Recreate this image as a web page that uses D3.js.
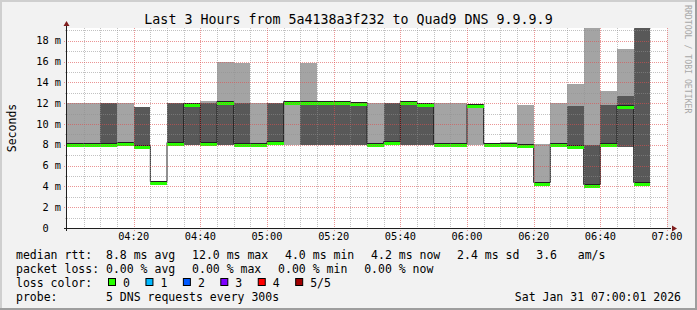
<!DOCTYPE html>
<html>
<head>
<meta charset="utf-8">
<script src="https://cdn.jsdelivr.net/npm/d3@7"></script>
<style>
html, body { margin: 0; padding: 0; background: #f2f2f2; }
svg { display: block; }
text { font-family: "DejaVu Sans Mono", monospace; fill: #000; }
</style>
</head>
<body>
<svg id="chart" width="697" height="310"></svg>
<script>
// 5-minute steps from 04:00 to 07:00, 5 DNS pings per step, sorted (ms)
var startTime = new Date(2026, 0, 31, 4, 0, 0);
var endTime = new Date(2026, 0, 31, 7, 0, 0);
var stepMinutes = 5;

var ping1 = [8.0,8.0,8.0,8.1,7.8,4.3,8.0,8.0,8.0,8.0,8.0,8.0,8.0,8.0,8.0,8.0,8.0,8.0,8.0,8.2,8.0,8.0,8.0,8.0,8.0,8.0,8.0,7.9,4.2,8.0,7.8,4.0,8.0,7.8,4.2,null];
var ping2 = [8.0,8.0,8.0,8.1,7.8,4.3,8.0,8.0,8.0,8.0,8.0,8.0,8.0,12.0,8.0,8.0,8.0,8.0,8.0,8.2,8.0,8.0,8.0,8.0,11.7,8.0,8.0,7.9,4.2,8.0,7.8,4.0,8.0,7.8,4.2,null];
var median = [8.0,8.0,8.0,8.1,7.8,4.3,8.1,11.8,8.1,12.0,8.0,8.0,8.2,12.0,12.0,12.0,12.0,11.9,8.0,8.2,12.0,11.8,8.0,8.0,11.7,8.0,8.0,7.9,4.2,8.0,7.8,4.0,8.0,11.6,4.2,null];
var ping4 = [8.0,8.0,12.0,8.1,11.6,4.3,12.0,12.0,12.0,12.0,12.0,8.0,12.0,12.0,12.0,12.0,12.0,11.9,8.0,12.0,12.0,11.8,8.0,8.0,11.7,8.0,8.0,7.9,4.2,8.0,11.7,8.0,11.8,12.7,20.5,null];
var ping5 = [12.0,12.0,12.0,12.0,11.6,4.3,12.0,12.0,12.2,16.0,15.9,12.0,12.0,12.0,15.9,12.0,12.0,11.9,12.0,12.0,12.0,11.8,12.0,12.0,11.7,8.0,8.3,11.8,8.1,12.0,13.8,20.5,13.2,17.2,21.0,null];

var yMinorTicks = d3.range(0, 20, 1);
var yMajorTicks = [0, 2, 4, 6, 8, 10, 12, 14, 16, 18];
var yTickLabels = ["0", "2 m", "4 m", "6 m", "8 m", "10 m", "12 m", "14 m", "16 m", "18 m"];

var lossLabels = ["0", "1", "2", "3", "4", "5/5"];
var lossColors = ["#26ff00", "#00b8ff", "#0059ff", "#7e00ff", "#ff0000", "#a10000"];

var titleText = "Last 3 Hours from 5a4138a3f232 to Quad9 DNS 9.9.9.9";
var rttLegend = ["median rtt:  8.8 ms avg", "12.0 ms max", "4.0 ms min", "4.2 ms now", "2.4 ms sd", "3.6   am/s"];
var lossLegend = ["packet loss: 0.00 % avg", "0.00 % max", "0.00 % min", "0.00 % now"];
var probeText = "probe:       5 DNS requests every 300s";
var dateText = "Sat Jan 31 07:00:01 2026";

function draw() {
  var W = 697, H = 310;
  var plot = {left: 67, right: 667, top: 28, bottom: 228};
  var svg = d3.select("#chart");
  svg.selectAll("*").remove();

  // background + 3d frame
  svg.append("rect").attr("width", W).attr("height", H).attr("fill", "#f2f2f2");
  svg.append("path").attr("d", "M0,0H697V2H0Z M0,0H2V310H0Z").attr("fill", "#cfcfcf");
  svg.append("path").attr("d", "M695,0H697V310H695Z M0,308H697V310H0Z").attr("fill", "#9e9e9e");

  var x = d3.scaleTime().domain([startTime, endTime]).range([plot.left, plot.right]);
  var y = d3.scaleLinear().domain([0, 19.23]).range([plot.bottom, plot.top]);

  svg.append("rect")
    .attr("x", plot.left).attr("y", plot.top)
    .attr("width", plot.right - plot.left).attr("height", plot.bottom - plot.top)
    .attr("fill", "#ffffff");

  svg.append("clipPath").attr("id", "clip").append("rect")
    .attr("x", plot.left).attr("y", plot.top)
    .attr("width", plot.right - plot.left).attr("height", plot.bottom - plot.top);

  var steps = median.map(function(m, i) {
    var t0 = d3.timeMinute.offset(startTime, i * stepMinutes);
    var t1 = d3.timeMinute.offset(startTime, (i + 1) * stepMinutes);
    return {i: i, t0: t0, t1: t1, p1: ping1[i], p2: ping2[i], med: m, p4: ping4[i], p5: ping5[i]};
  }).filter(function(d) { return d.med != null; });

  var g = svg.append("g").attr("clip-path", "url(#clip)");

  // smoke: outer pair light, inner pair dark
  g.selectAll("rect.outer").data(steps).enter().append("rect")
    .attr("class", "outer")
    .attr("shape-rendering", "crispEdges")
    .attr("x", function(d) { return x(d.t0); })
    .attr("width", function(d) { return x(d.t1) - x(d.t0); })
    .attr("y", function(d) { return y(d.p5); })
    .attr("height", function(d) { return y(d.p1) - y(d.p5); })
    .attr("fill", "#a4a4a4");

  g.selectAll("rect.inner").data(steps).enter().append("rect")
    .attr("class", "inner")
    .attr("shape-rendering", "crispEdges")
    .attr("x", function(d) { return x(d.t0); })
    .attr("width", function(d) { return x(d.t1) - x(d.t0); })
    .attr("y", function(d) { return y(d.p4); })
    .attr("height", function(d) { return y(d.p2) - y(d.p4); })
    .attr("fill", "#585858");

  // grid on top of the smoke
  var minorTimes = d3.timeMinute.every(5).range(startTime, endTime).filter(function(t) { return t.getMinutes() % 20 != 0; });
  var majorTimes = d3.timeMinute.every(20).range(d3.timeMinute.offset(startTime, 20), d3.timeMinute.offset(endTime, 1));

  var grid = svg.append("g");
  grid.selectAll("line.vmin").data(minorTimes).enter().append("line")
    .attr("x1", function(d) { return Math.round(x(d)) + 0.5; }).attr("x2", function(d) { return Math.round(x(d)) + 0.5; })
    .attr("y1", plot.top).attr("y2", plot.bottom + 2)
    .attr("stroke", "rgba(143,143,143,0.55)").attr("stroke-dasharray", "1,1");
  grid.selectAll("line.hmin").data(yMinorTicks.filter(function(v) { return v % 2 != 0; })).enter().append("line")
    .attr("x1", plot.left - 2).attr("x2", plot.right)
    .attr("y1", function(d) { return Math.round(y(d)) + 0.5; }).attr("y2", function(d) { return Math.round(y(d)) + 0.5; })
    .attr("stroke", "rgba(143,143,143,0.55)").attr("stroke-dasharray", "1,1");
  grid.selectAll("line.vmaj").data(majorTimes).enter().append("line")
    .attr("x1", function(d) { return Math.round(x(d)) + 0.5; }).attr("x2", function(d) { return Math.round(x(d)) + 0.5; })
    .attr("y1", plot.top).attr("y2", plot.bottom + 3)
    .attr("stroke", "rgba(222,79,79,0.6)").attr("stroke-dasharray", "1,1");
  grid.selectAll("line.hmaj").data(yMajorTicks.filter(function(v) { return v > 0; })).enter().append("line")
    .attr("x1", plot.left - 3).attr("x2", plot.right)
    .attr("y1", function(d) { return Math.round(y(d)) + 0.5; }).attr("y2", function(d) { return Math.round(y(d)) + 0.5; })
    .attr("stroke", "rgba(222,79,79,0.6)").attr("stroke-dasharray", "1,1");

  // median: black step line and loss-coloured band
  var medPts = steps.map(function(d) { return [d.t0, d.med]; });
  var last = steps[steps.length - 1];
  medPts.push([last.t1, last.med]);
  var medLine = d3.line()
    .x(function(d) { return x(d[0]); })
    .y(function(d) { return Math.round(y(d[1])) - 1.5; })
    .curve(d3.curveStepAfter);
  g.append("path").datum(medPts)
    .attr("d", medLine)
    .attr("fill", "none").attr("stroke", "#202020").attr("stroke-width", 1);

  g.selectAll("rect.med").data(steps).enter().append("rect")
    .attr("class", "med")
    .attr("shape-rendering", "crispEdges")
    .attr("x", function(d) { return x(d.t0); })
    .attr("width", function(d) { return x(d.t1) - x(d.t0); })
    .attr("y", function(d) { return Math.round(y(d.med)) - 1; })
    .attr("height", 3)
    .attr("fill", lossColors[0]);

  // axes
  svg.append("line").attr("x1", plot.left - 0.5).attr("x2", plot.left - 0.5)
    .attr("y1", plot.bottom + 3).attr("y2", plot.top - 3)
    .attr("stroke", "#1f1f1f");
  svg.append("line").attr("x1", plot.left - 3).attr("x2", plot.right + 4)
    .attr("y1", plot.bottom + 0.5).attr("y2", plot.bottom + 0.5)
    .attr("stroke", "#1f1f1f");
  svg.append("path").attr("fill", "#801f1f")
    .attr("d", "M" + (plot.left - 0.5) + "," + (plot.top - 7) + "L" + (plot.left + 2.5) + "," + (plot.top - 2) + "L" + (plot.left - 3.5) + "," + (plot.top - 2) + "Z");
  svg.append("path").attr("fill", "#801f1f")
    .attr("d", "M" + (plot.right + 10) + "," + (plot.bottom + 0.5) + "L" + (plot.right + 5) + "," + (plot.bottom - 2.5) + "L" + (plot.right + 5) + "," + (plot.bottom + 3.5) + "Z");

  // y labels
  var cwAxis = 0.602 * 10.3;
  svg.selectAll("text.ylab").data(yMajorTicks).enter().append("text")
    .attr("class", "ylab")
    .attr("x", function(d, i) { return yTickLabels[i].indexOf("m") < 0 ? 61 - 2 * cwAxis : 61; })
    .attr("y", function(d) { return y(d) + 3.7; })
    .attr("text-anchor", "end")
    .style("font-size", "10.3px")
    .text(function(d, i) { return yTickLabels[i]; });

  // x labels
  var fmt = d3.timeFormat("%H:%M");
  svg.selectAll("text.xlab").data(majorTimes).enter().append("text")
    .attr("class", "xlab")
    .attr("x", function(d) { return x(d); })
    .attr("y", 240)
    .attr("text-anchor", "middle")
    .style("font-size", "10.3px")
    .text(function(d) { return fmt(d); });

  // title, axis title, watermark
  svg.append("text").attr("x", 348.5).attr("y", 24).attr("text-anchor", "middle")
    .style("font-size", "13.3px").text(titleText);
  svg.append("text").attr("transform", "translate(15.5,128) rotate(-90)")
    .attr("text-anchor", "middle").style("font-size", "11.5px").text("Seconds");
  svg.append("text").attr("transform", "translate(685,5) rotate(90)")
    .style("font-size", "8.2px").style("fill", "#a8a8a8").text("RRDTOOL / TOBI OETIKER");

  // legend
  var legendFont = "11.5px", gap = 16.8;
  function legendRow(items, yy) {
    var xx = 16;
    items.forEach(function(s) {
      var t = svg.append("text").attr("x", xx).attr("y", yy)
        .attr("xml:space", "preserve").style("white-space", "pre")
        .style("font-size", legendFont).text(s);
      xx += t.node().getComputedTextLength() + gap;
    });
  }
  legendRow(rttLegend, 259);
  legendRow(lossLegend, 273);

  svg.append("text").attr("x", 16).attr("y", 287).style("font-size", legendFont).text("loss color:");
  var bx = 108;
  lossLabels.forEach(function(lab, i) {
    svg.append("rect").attr("x", bx + 0.5).attr("y", 278.5).attr("width", 7).attr("height", 7)
      .attr("fill", lossColors[i]).attr("stroke", "#000").attr("stroke-width", 1);
    var t = svg.append("text").attr("x", bx + 15).attr("y", 287).style("font-size", legendFont).text(lab);
    bx = bx + 15 + t.node().getComputedTextLength() + 15.5;
  });

  svg.append("text").attr("x", 16).attr("y", 301)
    .attr("xml:space", "preserve").style("white-space", "pre")
    .style("font-size", legendFont).text(probeText);
  svg.append("text").attr("x", 681).attr("y", 301).attr("text-anchor", "end")
    .style("font-size", legendFont).text(dateText);
}

draw();
</script>
</body>
</html>
